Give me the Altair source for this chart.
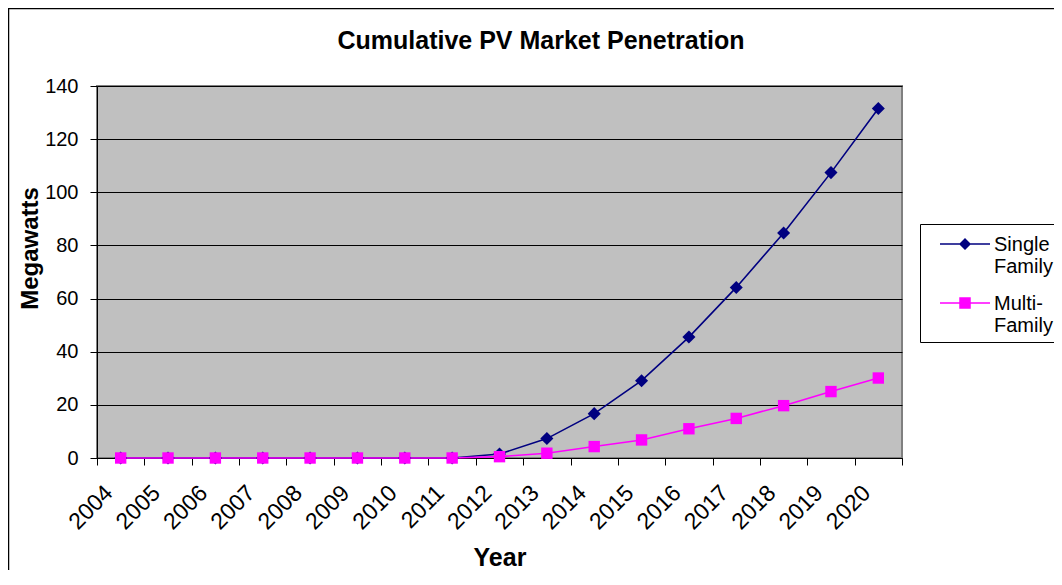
import altair as alt
import pandas as pd

years = [str(y) for y in range(2004, 2021)]
single_family = [0, 0, 0, 0, 0, 0, 0, 0, 1.5, 7.3, 16.7, 29.1, 45.5, 64.2, 84.7, 107.4, 131.5]
multi_family = [0, 0, 0, 0, 0, 0, 0, 0, 0.5, 1.8, 4.3, 6.8, 11.0, 14.9, 19.7, 25.0, 30.1]
series_names = ["Single Family", "Multi-Family"]
series_colors = ["#000080", "#FF00FF"]
series_shapes = ["diamond", "square"]
series_sizes = [170, 130]
y_ticks = [0, 20, 40, 60, 80, 100, 120, 140]
title_text = "Cumulative PV Market Penetration"

rows = []
for name, vals in zip(series_names, [single_family, multi_family]):
    for yr, v in zip(years, vals):
        rows.append({"Year": yr, "Megawatts": v, "Series": name})
df = pd.DataFrame(rows)

FONT = "Liberation Sans"

# legend symbols: a filled thin bar (the line) plus the marker, raised to the first label line
legend_paths = [
    "M-1,-0.472H1V-0.408H-1Z M0,-0.68L0.24,-0.44L0,-0.2L-0.24,-0.44Z",
    "M-1,-0.472H1V-0.408H-1Z M-0.23,-0.67H0.23V-0.21H-0.23Z",
]

x_enc = alt.X(
    "Year:O",
    scale=alt.Scale(type="band", domain=years, paddingInner=0, paddingOuter=0),
    axis=alt.Axis(
        title="Year", titleFont=FONT, titleFontSize=25, titleFontWeight="bold",
        titleColor="#000000", titlePadding=12,
        labelFont=FONT, labelFontSize=23, labelColor="#000000", labelAngle=-45,
        labelAlign="right", labelBaseline="middle", labelPadding=24, labelOffset=-12,
        tickBand="extent", tickSize=7, tickColor="#000000", domainColor="#000000",
        grid=False, labelOverlap=False,
    ),
)
y_enc = alt.Y(
    "Megawatts:Q",
    scale=alt.Scale(domain=[0, 140], nice=False, zero=True),
    axis=alt.Axis(
        title="Megawatts", titleFont=FONT, titleFontSize=24, titleFontWeight="bold",
        titleColor="#000000", titleX=-67, titleY=162, titleAngle=-90,
        titleAlign="center", titleBaseline="middle",
        labelFont=FONT, labelFontSize=20, labelColor="#000000", labelPadding=12,
        values=y_ticks, tickSize=7, tickColor="#000000", domainColor="#000000",
        grid=True, gridColor="#000000", gridWidth=1, gridOpacity=1,
    ),
)
legend = alt.Legend(
    title=None, orient="none", legendX=823, legendY=138,
    strokeColor="#000000", fillColor="#FFFFFF", padding=6,
    labelFont=FONT, labelFontSize=20, labelColor="#000000", labelBaseline="bottom",
    labelExpr="split(replace(datum.label, '-', '- '), ' ')",
    symbolSize=2500, symbolOffset=14, symbolOpacity=1, symbolStrokeWidth=0,
    rowPadding=12, labelOffset=4,
)
color_scale = alt.Scale(domain=series_names, range=series_colors)

base = alt.Chart(df).encode(
    x=x_enc, y=y_enc,
    color=alt.Color("Series:N", scale=color_scale, legend=legend),
)
lines = base.mark_line(strokeWidth=1.6)
point_layers = [
    base.transform_filter(alt.datum.Series == name).mark_point(
        filled=True, opacity=1, size=sz, shape=shp
    )
    for name, shp, sz in zip(series_names, series_shapes, series_sizes)
]
legend_layer = base.mark_point(filled=True, opacity=0, size=10).encode(
    shape=alt.Shape("Series:N", scale=alt.Scale(domain=series_names, range=legend_paths), legend=legend)
)

frame = alt.Chart(alt.Data(values=[{}])).mark_rect(
    fill=None, stroke="#000000", strokeWidth=1.5
).encode(
    x=alt.value(-88.5), x2=alt.value(1200), y=alt.value(-77.5), y2=alt.value(800)
)

title = alt.Chart(alt.Data(values=[{}])).mark_text(
    font=FONT, fontSize=25, fontWeight="bold", color="#000000",
    align="center", baseline="alphabetic"
).encode(
    x=alt.value(444), y=alt.value(-37), text=alt.value(title_text)
)

chart = alt.layer(frame, title, lines, *point_layers, legend_layer).properties(
    width=805, height=372,
    padding={"left": 89, "top": 78, "right": 152, "bottom": 112},
    autosize=alt.AutoSizeParams(type="none"),
    background="#FFFFFF",
).configure_view(
    fill="#C0C0C0", stroke="#808080", strokeWidth=2
)

chart.save("out.html", embed_options={"renderer": "svg", "actions": False})
